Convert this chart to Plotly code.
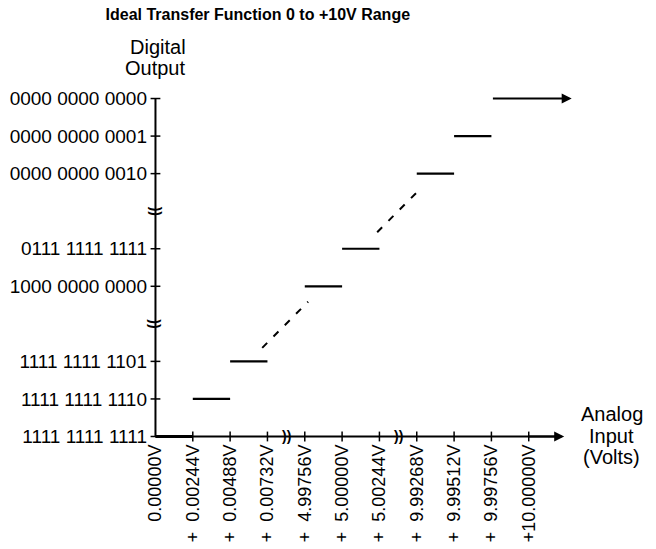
import plotly.graph_objects as go

# ---- data ----
y_codes = ["1111 1111 1111", "1111 1111 1110", "1111 1111 1101",
           "1000 0000 0000", "0111 1111 1111",
           "0000 0000 0010", "0000 0000 0001", "0000 0000 0000"]
y_pos = [0, 1, 2, 4, 5, 7, 8, 9]          # vertical slot of each code (breaks at 3 and 6)
y_breaks = [3, 6]

x_labels = ["0.00000V", "+  0.00244V", "+  0.00488V", "+  0.00732V",
            "+  4.99756V", "+  5.00000V", "+  5.00244V",
            "+  9.99268V", "+  9.99512V", "+  9.99756V", "+10.00000V"]
x_pos = [0, 1, 2, 3, 4, 5, 6, 7, 8, 9, 10]
x_breaks = [3.5, 6.5]

# transfer-function steps (one per code)
step_start = [0, 1, 2, 4, 5, 7, 8, 9]
step_end = [1, 2, 3, 5, 6, 8, 9, 11.15]

# dashed ideal-line fragments
ideal_seg1_x = [2.86, 4.09]
ideal_seg1_y = [2.36, 3.59]
ideal_seg2_x = [5.94, 7.14]
ideal_seg2_y = [5.44, 6.64]

x_axis_end = 10.95

FONT = "Liberation Sans, Arial, sans-serif"
fig = go.Figure()

# axes drawn as lines
fig.add_trace(go.Scatter(x=[0, x_axis_end - 0.2], y=[0, 0], mode="lines",
                         line=dict(color="black", width=2), hoverinfo="skip"))
fig.add_trace(go.Scatter(x=[0, 0], y=[0, max(y_pos)], mode="lines",
                         line=dict(color="black", width=2), hoverinfo="skip"))
# tick crosses
fig.add_trace(go.Scatter(x=x_pos[1:], y=[0] * (len(x_pos) - 1), mode="markers",
                         marker=dict(symbol="line-ns-open", size=7, color="black",
                                     line=dict(color="black", width=1.5)),
                         hoverinfo="skip"))
fig.add_trace(go.Scatter(x=[0] * len(y_pos), y=y_pos, mode="markers",
                         marker=dict(symbol="line-ew-open", size=7, color="black",
                                     line=dict(color="black", width=1.5)),
                         hoverinfo="skip"))

# steps (last one drawn as an arrow)
for i, (x0, x1, yv) in enumerate(zip(step_start, step_end, y_pos)):
    if i == len(y_pos) - 1:
        continue
    fig.add_trace(go.Scatter(x=[x0, x1], y=[yv, yv], mode="lines",
                             line=dict(color="black", width=3 if yv == 0 else 2.2),
                             hoverinfo="skip"))

# dashed ideal line fragments
for sx, sy in [(ideal_seg1_x, ideal_seg1_y), (ideal_seg2_x, ideal_seg2_y)]:
    fig.add_trace(go.Scatter(x=sx, y=sy, mode="lines",
                             line=dict(color="black", width=2, dash="7px,9px"),
                             hoverinfo="skip"))

annotations = []
# top step arrow
annotations.append(dict(x=step_end[-1], y=y_pos[-1], ax=step_start[-1], ay=y_pos[-1],
                        xref="x", yref="y", axref="x", ayref="y", text="",
                        showarrow=True, arrowhead=2, arrowsize=1, arrowwidth=2,
                        arrowcolor="black"))
# x axis arrow
annotations.append(dict(x=x_axis_end, y=0, ax=x_axis_end - 1, ay=0,
                        xref="x", yref="y", axref="x", ayref="y", text="",
                        showarrow=True, arrowhead=2, arrowsize=1, arrowwidth=2,
                        arrowcolor="black"))
# break marks
for xb in x_breaks:
    annotations.append(dict(x=xb, y=0, xref="x", yref="y", text="<b>))</b>",
                            showarrow=False, font=dict(family=FONT, size=14, color="black")))
for yb in y_breaks:
    annotations.append(dict(x=0, y=yb, xref="x", yref="y", text="<b>))</b>", textangle=90,
                            showarrow=False, font=dict(family=FONT, size=14, color="black")))

# axis titles (one annotation per line, positioned in pixels via paper coords)
W, H = 656, 549
ML, MR, MT, MB = 147.5, 74.7, 76, 104.5
PW, PH = W - ML - MR, H - MT - MB


def px_to_paper(px, py):
    return (px - ML) / PW, (H - MB - py) / PH


for txt, (cx, cy) in [("Digital", (158, 47)), ("Output", (155, 68)),
                      ("Analog", (612, 414)), ("Input", (612, 436)), ("(Volts)", (612, 458))]:
    ax_, ay_ = px_to_paper(cx, cy)
    annotations.append(dict(x=ax_, y=ay_, xref="paper", yref="paper", text=txt,
                            showarrow=False, xanchor="center", yanchor="middle",
                            font=dict(family=FONT, size=20, color="black")))

fig.update_layout(
    width=W, height=H,
    margin=dict(l=ML, r=MR, t=MT, b=MB),
    paper_bgcolor="white", plot_bgcolor="white",
    showlegend=False,
    title=dict(text="Ideal Transfer Function 0 to +10V Range", x=0.393, xanchor="center",
               y=0.9745, yanchor="middle", yref="container",
               font=dict(family=FONT, size=16, color="black", weight="bold")),
    annotations=annotations,
)
fig.update_xaxes(range=[-0.2, 11.4], tickvals=x_pos, ticktext=x_labels, tickangle=-90,
                 showgrid=False, zeroline=False, showline=False, ticks="",
                 ticklabelstandoff=-4, automargin=False,
                 tickfont=dict(family=FONT, size=18, color="black"))
fig.update_yaxes(range=[-0.2, 9.6], tickvals=y_pos, ticktext=y_codes,
                 showgrid=False, zeroline=False, showline=False, ticks="",
                 ticklabelstandoff=0, automargin=False,
                 tickfont=dict(family=FONT, size=19, color="black"))

fig.write_html("out.html", config={"displayModeBar": False},
               post_script="document.body.style.margin='0';")
